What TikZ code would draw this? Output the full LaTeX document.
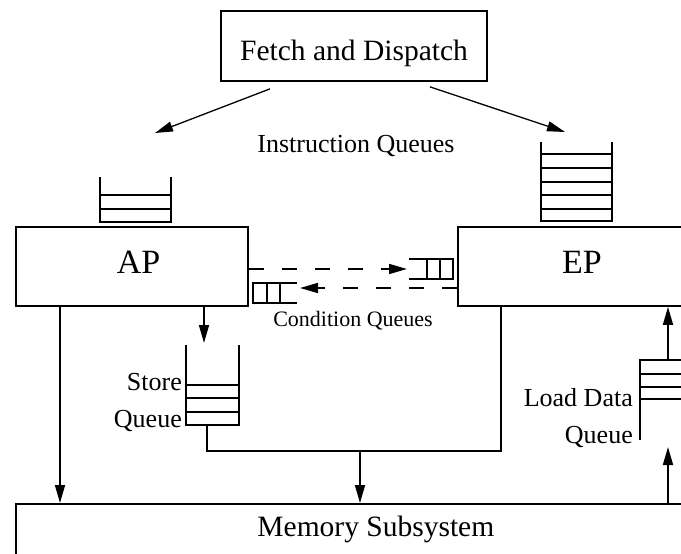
\documentclass[tikz,border=0pt]{standalone}
\usepackage{fontspec}
\setmainfont{Liberation Serif}
\usetikzlibrary{arrows.meta}
\newcommand{\boxfont}{\fontsize{29.5}{34}\selectfont}
\newcommand{\apfont}{\fontsize{34}{40}\selectfont}
\newcommand{\lblfont}{\fontsize{26}{30}\selectfont}
\newcommand{\cqfont}{\fontsize{22}{26}\selectfont}
\tikzset{
  box/.style={draw, line width=1.7pt, inner sep=0pt},
  wire/.style={line width=1.7pt},
  flow/.style={wire, -{Triangle[length=18pt,width=10pt]}},
  condflow/.style={flow, dash pattern=on 15pt off 18pt},
  lbl/.style={inner sep=0pt, font=\lblfont}
}

\begin{document}
\begin{tikzpicture}[x=1pt,y=-1pt]
		%%%%% START %%%%%
		\useasboundingbox (0,0) rectangle (681,554);
		\clip (0,0) rectangle (681,554);
		
		\node[box, minimum width=266pt, minimum height=70pt, text height=28pt, text depth=0pt, font=\boxfont] (fetch) at (354,46) {Fetch and Dispatch};
		\node[box, minimum width=232pt, minimum height=79pt, text height=13pt, text depth=0pt, font=\apfont] (ap) at (132,266.5) {\hspace*{13pt}AP};
		\node[box, minimum width=248pt, minimum height=79pt, text height=13pt, text depth=0pt, font=\apfont] (ep) at (582,266.5) {EP};
		\node[box, anchor=north west, minimum width=720pt, minimum height=60pt, text height=20pt, text depth=14pt, font=\boxfont] (mem) at (15,503) {Memory Subsystem};
		
		\node[lbl, anchor=base] (iqtext) at (356,152) {Instruction Queues};
		\node[inner sep=0pt, font=\cqfont, anchor=base] (cqtext) at (353,326) {Condition Queues};
		\node[lbl, anchor=base east] (sqtext1) at (182,390) {Store};
		\node[lbl, anchor=base east] (sqtext2) at (182,427) {Queue};
		\node[lbl, anchor=base east] (ldtext1) at (633,406) {Load Data};
		\node[lbl, anchor=base east] (ldtext2) at (633,443) {Queue};
		
		% instruction queues
		\draw[wire] (100,177) -- (100,222) -- (171,222) -- (171,177);
		\draw[wire] (100,195) -- (171,195);
		\draw[wire] (100,209) -- (171,209);
		
		\draw[wire] (541,142) -- (541,221) -- (612,221) -- (612,142);
		\foreach \y in {154,168,182,195,209}
			\draw[wire] (541,\y) -- (612,\y);
		
		\coordinate (iqap) at (155,133);
		\coordinate (iqep) at (565,132);
		\draw[flow, line width=1.3pt] ([shift={(-84,7)}]fetch.south) -- (iqap);
		\draw[flow, line width=1.3pt] ([shift={(76,5)}]fetch.south) -- (iqep);
		
		% condition queues
		\draw[wire] (409,259) -- (453,259) -- (453,279) -- (409,279);
		\draw[wire] (427,259) -- (427,279);
		\draw[wire] (440,259) -- (440,279);
		
		\draw[wire] (297,283) -- (253,283) -- (253,303) -- (297,303);
		\draw[wire] (267,283) -- (267,303);
		\draw[wire] (280,283) -- (280,303);
		
		\coordinate (cqep) at (407,269);
		\coordinate (cqap) at (300,288);
		\draw[condflow] (cqep -| ap.east) -- (cqep);
		\draw[condflow] (cqap -| ep.west) -- (cqap);
		
		% store queue
		\draw[wire] (186,345) -- (186,425) -- (239,425) -- (239,345);
		\draw[wire] (186,385) -- (239,385);
		\draw[wire] (186,398) -- (239,398);
		\draw[wire] (186,412) -- (239,412);
		
		\coordinate (sqin) at (204,343);
		\coordinate (sqout) at (207,425);
		\coordinate (join) at (360,451);
		\coordinate (epout) at (501,0);
		\coordinate (apout) at (60,0);
		\draw[flow] (sqin |- ap.south) -- (sqin);
		\draw[wire] (sqout) |- (join) -| (epout |- ep.south);
		\draw[flow] (join) -- (join |- mem.north);
		\draw[flow] (apout |- ap.south) -- (apout |- mem.north);
		
		% load data queue
		\draw[wire] (640,440) -- (640,360) -- (693,360) -- (693,440);
		\draw[wire] (640,374) -- (693,374);
		\draw[wire] (640,387) -- (693,387);
		\draw[wire] (640,399) -- (693,399);
		
		\coordinate (ldin) at (668,447);
		\coordinate (ldout) at (668,360);
		\draw[flow] (ldin |- mem.north) -- (ldin);
		\draw[flow] (ldout) -- (ldout |- ep.south);
		
		%%%%% END %%%%%
\end{tikzpicture}
\end{document}
